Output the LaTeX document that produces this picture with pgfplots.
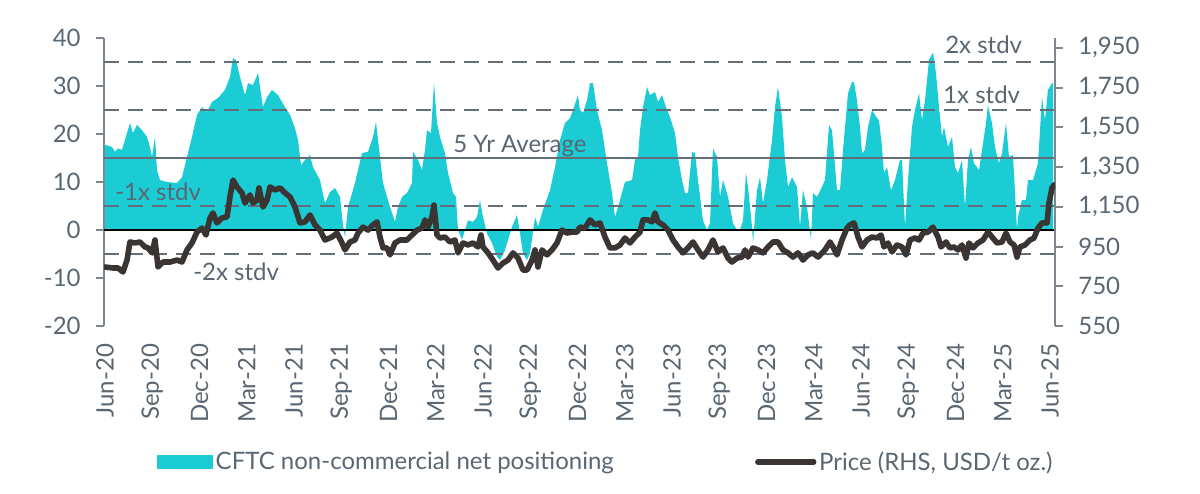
\documentclass[border=0pt]{standalone}
\usepackage{pgfplots}
\pgfplotsset{compat=1.18}
\usepackage{fontspec}
\setmainfont{Lato}
\definecolor{cftc}{RGB}{27,204,212}
\definecolor{price}{RGB}{58,53,51}
\definecolor{refl}{RGB}{100,110,120}
\definecolor{txt}{RGB}{90,102,114}
\definecolor{axl}{RGB}{125,135,145}
\newcommand{\fs}{\fontsize{18}{21}\selectfont}

\begin{document}
\begin{tikzpicture}[font=\fs]
\useasboundingbox (-78pt,-125.25pt) rectangle (822pt,244.5pt);
\begin{axis}[
  at={(0,0)}, anchor=south west, scale only axis,
  width=713.25pt, height=216pt,
  xmin=-1, xmax=950, ymin=-20, ymax=40,
  clip mode=individual,
  axis y line*=left, axis x line*=bottom,
  x axis line style={draw=none},
  y axis line style={-, draw=axl, line width=1.5pt},
  xtick={0,47.25,94.5,141.75,189,236.25,283.5,330.75,378,425.25,472.5,519.75,567,614.25,661.5,708.75,756,803.25,850.5,897.75,945},
  xticklabels={Jun-20,Sep-20,Dec-20,Mar-21,Jun-21,Sep-21,Dec-21,Mar-22,Jun-22,Sep-22,Dec-22,Mar-23,Jun-23,Sep-23,Dec-23,Mar-24,Jun-24,Sep-24,Dec-24,Mar-25,Jun-25},
  x tick style={draw=none},
  xticklabel shift=4pt,
  xticklabel style={rotate=90, anchor=east, text=txt, font=\fs},
  ytick={-20,-10,...,40},
  tick align=outside, major tick length=6pt,
  y tick style={draw=axl, line width=1.5pt},
  yticklabel shift=8pt,
  yticklabel style={text=txt, font=\fs},
  /pgf/number format/assume math mode=true,
  legend style={at={(0.528,-0.472)}, anchor=center, draw=none, fill=none,
    legend columns=2, text=txt, font=\fs,
    /tikz/every even column/.append style={column sep=104pt}},
]
\addplot[fill=cftc, draw=none,
  legend image code/.code={\fill[cftc] (0pt,-5.25pt) rectangle (42pt,5.25pt);}]
coordinates {
(0,17.7)(1,17.7)(7,17.3)(10,16.3)(13,17.0)(17,16.7)(20,18.75)(25,22.3)(28,20.2)(32,21.9)
(37,20.8)(42,19.4)(45,17.3)(47,15.2)(50,19.4)(52,12.5)(55,10.4)(62,10.0)(72,9.8)(77,11.0)
(82,15.2)(87,19.4)(92,24.0)(97,25.6)(102,24.6)(107,26.7)(113,27.5)(120,29.2)(125,31.9)(128,35.8)
(131,35.4)(135,31.9)(140,28.1)(143,30.6)(148,30.2)(153,32.7)(158,25.6)(162,27.7)(167,29.2)(173,28.1)
(180,25.6)(185,24.0)(190,21.25)(193,18.75)(196,13.5)(200,14.6)(205,15.6)(208,13.1)(215,10.4)(220,5.6)
(225,7.9)(230,8.75)(235,6.9)(238,1.0)(240,-1.5)(243,4.8)(250,9.8)(257,16.0)(263,16.3)(268,19.4)
(271,22.5)(275,15.2)(278,9.8)(285,4.8)(290,1.7)(293,4.8)(297,6.9)(302,7.7)(307,9.8)(308,16.3)
(313,14.6)(317,12.5)(320,16.7)(322,20.8)(326,20.2)(329,30.6)(332,22.3)(335,19.4)(340,16.0)(343,11.9)
(348,7.7)(351,6.9)(353,0)(357,-2)(360,0)(363,2)(368,1.7)(372,2.7)(375,6.25)(378,2.7)
(382,-0.7)(387,-2.7)(392,-5.6)(395,-6.25)(400,-4.2)(407,0.7)(412,3.1)(415,-0.7)(418,-4.9)(422,-6.25)
(425,-4.9)(430,2.7)(433,0.7)(438,4.2)(445,8.3)(450,13.1)(455,18.75)(460,22.3)(465,23.3)(468,25.0)
(473,28.1)(475,25.0)(478,24.4)(482,27.0)(485,30.6)(488,30.6)(492,25.0)(497,20.8)(502,13.9)(507,7.7)
(510,2.7)(515,6.25)(520,10.0)(527,10.4)(530,14.6)(533,15.2)(535,20.8)(538,25.6)(542,29.8)(545,28.1)
(550,28.75)(553,26.7)(557,28.1)(562,25.0)(565,23.5)(570,20.2)(573,15.2)(577,10.4)(580,7.7)(583,7.7)
(587,16.3)(590,16.0)(593,10.4)(598,2.0)(602,0)(605,1.4)(608,17.0)(612,15.2)(615,6.9)(618,10.4)
(623,6.9)(628,1.4)(632,0)(635,0)(638,2.0)(641,11.9)(643,9.0)(647,0.7)(648,-2.7)(652,8.3)
(655,11.0)(658,5.6)(662,10.4)(667,18.75)(670,25.6)(673,29.8)(677,23.5)(680,14.6)(683,9.0)(687,11.0)
(692,9.0)(695,0.7)(698,8.3)(702,4.8)(706,-2.0)(708,7.7)(712,6.9)(717,9.0)(720,10.4)(724,21.9)
(727,20.8)(732,8.3)(735,8.3)(738,16.7)(743,28.5)(747,30.8)(749,30.8)(752,27.0)(755,21.5)(757,16.0)
(760,16.7)(763,21.5)(767,25.0)(772,23.3)(774,22.9)(777,17.3)(779,11.9)(782,13.1)(786,8.3)(790,10.4)
(795,14.6)(797,14.6)(800,0.7)(803,10.4)(807,21.5)(810,25.0)(814,28.5)(817,22.9)(820,27.0)(824,35.4)
(828,37.0)(831,32.7)(834,25.6)(837,19.4)(839,21.5)(843,17.3)(847,19.4)(850,13.1)(853,11.9)(857,14.6)
(860,4.8)(863,14.6)(866,17.3)(869,13.9)(874,12.5)(877,16.7)(881,22.3)(883,26.0)(887,22.3)(890,17.3)
(894,13.9)(897,16.0)(901,22.3)(904,15.2)(908,15.6)(912,0)(913,2.7)(917,6.25)(921,6.25)(923,10.4)
(928,10.4)(933,13.9)(935,20.8)(937,27.7)(940,22.9)(943,29.2)(947,30.6)(948,30.6)
} \closedcycle;
\addlegendentry{CFTC non-commercial net positioning}
\addlegendimage{legend image code/.code={\draw[price, line width=4pt, line cap=round] (2pt,0pt) -- (44pt,0pt);}}
\addlegendentry{Price (RHS, USD/t oz.)}
% reference lines
\addplot[refl, line width=2.2pt, dash pattern=on 11pt off 7pt, forget plot] coordinates {(-1,35) (950,35)};
\addplot[refl, line width=2.2pt, dash pattern=on 11pt off 7pt, forget plot] coordinates {(-1,25) (950,25)};
\addplot[refl, line width=1.8pt, forget plot] coordinates {(-1,15) (950,15)};
\addplot[refl, line width=2.2pt, dash pattern=on 11pt off 7pt, forget plot] coordinates {(-1,5) (950,5)};
\addplot[refl, line width=2.2pt, dash pattern=on 11pt off 7pt, forget plot] coordinates {(-1,-5) (950,-5)};
\addplot[black, line width=1.5pt, forget plot] coordinates {(-1,0) (950,0)};
\node[anchor=west, text=txt, inner sep=0pt] at (axis cs:840,38.5) {2x stdv};
\node[anchor=west, text=txt, inner sep=0pt] at (axis cs:838,28.1) {1x stdv};
\node[anchor=west, text=txt, inner sep=0pt] at (axis cs:348,17.5) {5 Yr Average};
\node[anchor=west, text=txt, inner sep=0pt] at (axis cs:10,7.9) {-1x stdv};
\node[anchor=west, text=txt, inner sep=0pt] at (axis cs:88,-8.75) {-2x stdv};
\end{axis}
\begin{axis}[
  at={(0,0)}, anchor=south west, scale only axis,
  width=713.25pt, height=216pt,
  xmin=-1, xmax=950, ymin=550, ymax=2000,
  axis y line*=right, axis x line=none, xtick=\empty,
  y axis line style={-, draw=axl, line width=1.5pt},
  ytick={550,750,...,1950}, scaled y ticks=false,
  tick align=outside, major tick length=6pt,
  y tick style={draw=axl, line width=1.5pt},
  yticklabel shift=8pt,
  yticklabel style={text=txt, font=\fs},
  /pgf/number format/assume math mode=true,
  /pgf/number format/1000 sep={,},
]
\addplot[price, line width=4.2pt, line join=round, line cap=round] coordinates {
(0,847)(8,842)(13,842)(18,822)(22,882)(25,973)(30,968)(35,973)(40,948)(43,943)
(47,918)(50,983)(53,847)(58,872)(65,872)(72,882)(77,872)(82,933)(87,968)(92,1023)
(97,1043)(101,1008)(105,1094)(108,1119)(112,1069)(117,1094)(122,1099)(125,1200)(128,1285)(132,1250)
(137,1220)(140,1169)(145,1210)(148,1169)(152,1184)(154,1245)(158,1149)(162,1184)(165,1250)(170,1235)
(175,1245)(180,1220)(185,1200)(190,1149)(195,1069)(200,1074)(205,1109)(210,1059)(215,1033)(220,983)
(227,998)(232,1018)(237,968)(240,933)(245,973)(250,983)(253,1018)(258,1048)(263,1033)(268,1059)
(272,1074)(275,998)(278,943)(282,943)(285,908)(290,968)(295,983)(302,983)(307,1008)(312,1033)
(317,1043)(320,1084)(323,1048)(327,1099)(329,1159)(332,1008)(335,993)(340,998)(345,973)(350,983)
(353,918)(358,968)(363,958)(368,968)(373,948)(376,1008)(378,948)(383,918)(388,882)(393,842)
(398,867)(403,882)(408,918)(413,892)(418,832)(422,832)(427,882)(430,933)(433,847)(437,933)
(442,908)(447,933)(452,968)(457,1033)(462,1018)(467,1023)(472,1023)(475,1048)(480,1043)(485,1084)
(490,1059)(495,1069)(500,998)(505,943)(510,943)(515,958)(520,993)(525,968)(530,998)(535,1023)
(538,1084)(543,1084)(547,1074)(550,1119)(553,1074)(558,1059)(563,1033)(568,983)(573,948)(578,918)
(583,943)(588,973)(593,933)(598,897)(603,933)(608,983)(613,923)(618,943)(623,892)(627,872)
(632,892)(637,897)(640,933)(643,897)(648,943)(653,933)(658,918)(663,948)(668,973)(673,973)
(678,933)(683,918)(688,897)(693,918)(698,882)(703,908)(708,918)(713,897)(720,933)(725,973)
(728,948)(732,908)(737,983)(742,1043)(745,1059)(749,1069)(753,998)(757,948)(762,983)(767,998)
(772,993)(776,1008)(779,948)(783,968)(787,923)(792,958)(797,948)(801,908)(805,983)(810,993)
(814,983)(818,1018)(823,1023)(828,1048)(833,998)(836,948)(841,973)(845,943)(849,948)(853,933)
(857,958)(861,892)(864,968)(868,943)(873,968)(878,983)(883,1023)(887,998)(892,968)(897,973)
(901,1018)(905,973)(909,958)(912,897)(915,948)(920,958)(925,983)(929,993)(933,1043)(937,1069)
(942,1069)(944,1169)(947,1245)(949,1260)
};
\end{axis}
\end{tikzpicture}
\end{document}
